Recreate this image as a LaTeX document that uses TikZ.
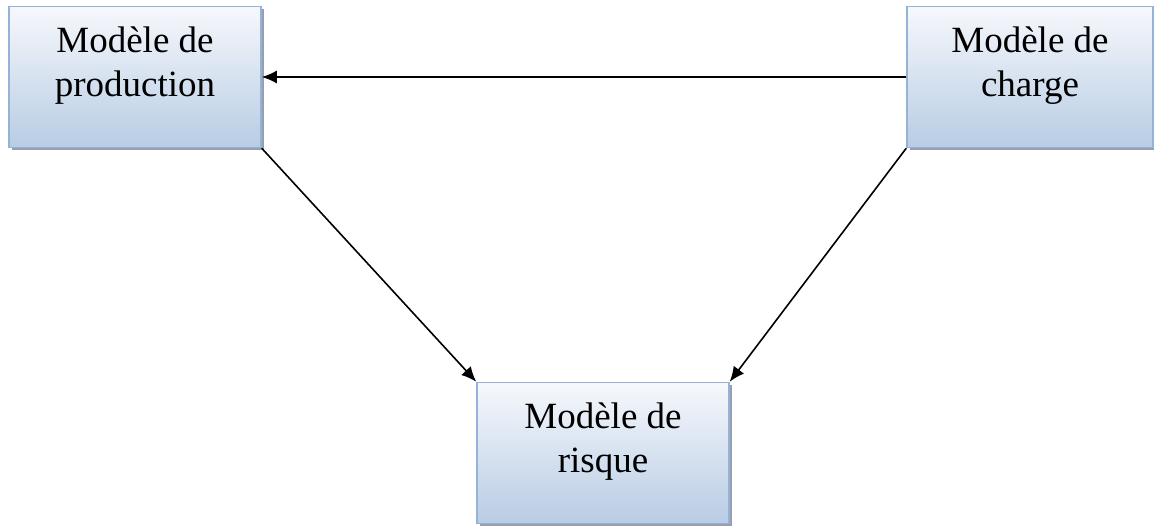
\documentclass[tikz,border=0pt]{standalone}
\usepackage{fontspec}
\setmainfont{Liberation Serif}
\usetikzlibrary{arrows.meta,shapes,shadows}
\definecolor{boxline}{RGB}{149,179,215}
\definecolor{boxtop}{RGB}{246,248,252}
\definecolor{boxbottom}{RGB}{184,204,228}
\definecolor{boxshadow}{RGB}{150,158,176}
\tikzstyle{model}=[rectangle,draw=boxline,line width=1.5pt,top color=boxtop,bottom color=boxbottom,minimum width=252pt,minimum height=141pt,inner sep=0pt,align=center,text depth=31pt,font=\fontsize{37pt}{44pt}\selectfont,drop shadow={shadow xshift=3pt,shadow yshift=-3pt,fill=boxshadow,opacity=1}]
\tikzstyle{edge} = [draw,line width=1.6pt,-{Latex[length=15pt,width=13pt]}]

\begin{document}
\begin{tikzpicture}[x=1pt,y=1pt]

    \useasboundingbox (0,0) rectangle (1154,526);

    % the three models
    \foreach \x/\y/\w/\name/\text in {135/449/252/prod/{Modèle de\\production}, 1030/449/246/charge/{Modèle de\\charge}, 603/73/252/risque/{Modèle de\\risque}}
        \node[model, minimum width=\w pt] (\name) at (\x, \y) {\text};

    % links between them
    \foreach \source/ \dest in {charge.west/prod.east, prod.south east/risque.north west, charge.south west/risque.north east}
        \path[edge] (\source) -- (\dest);

\end{tikzpicture}
\end{document}
